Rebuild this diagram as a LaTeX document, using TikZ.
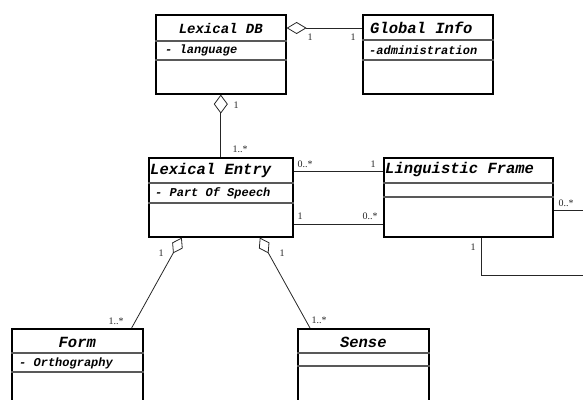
\documentclass[tikz,border=0pt]{standalone}
\usepackage{fontspec}
\setmainfont{Liberation Serif}
\setmonofont{Liberation Mono}
\usetikzlibrary{arrows.meta}
\tikzset{
  cls/.style={draw, line width=1.6pt, anchor=north west, inner sep=0pt},
  sep/.style={draw=black!65, line width=1.1pt},
  ttl/.style={font=\fontsize{15.5}{16}\selectfont\ttfamily\bfseries\itshape, inner sep=0pt},
  att/.style={font=\fontsize{12}{12}\selectfont\ttfamily\bfseries\itshape, inner sep=0pt, anchor=west},
  mult/.style={font=\fontsize{10}{10}\selectfont, inner sep=0pt, text=black!85},
  link/.style={draw=black!85, line width=0.8pt},
  agg/.style={link, {Diamond[open,length=19pt,width=13pt]}-}
}
\begin{document}
\begin{tikzpicture}[x=1pt,y=-1pt]
\clip (0,0) rectangle (583,399);
\path
(583,210) coordinate (R1)
(583,275) coordinate (R2)
;
\node[cls, minimum width=130pt, minimum height=79pt] (db) at (155,14) {};
\node[cls, minimum width=130pt, minimum height=79pt] (info) at (362,14) {};
\node[cls, minimum width=144pt, minimum height=79pt] (entry) at (148,157) {};
\node[cls, minimum width=169pt, minimum height=79pt] (frame) at (383,157) {};
\node[cls, minimum width=131pt, minimum height=90pt] (form) at (11,328) {};
\node[cls, minimum width=131pt, minimum height=90pt] (sense) at (297,328) {};
\foreach \c/\a/\b in {db/27/46, info/26/46, entry/26/46, frame/26/40, form/25/44, sense/25/38}
\draw[sep] ([yshift=-\a pt]\c.north west) -- ([yshift=-\a pt]\c.north east)
           ([yshift=-\b pt]\c.north west) -- ([yshift=-\b pt]\c.north east);
\node[ttl, font=\fontsize{14}{14}\selectfont\ttfamily\bfseries\itshape] (dbT) at ([yshift=-14pt]db.north) {Lexical DB};
\node[ttl, anchor=west] (infoT) at ([xshift=8pt,yshift=-14pt]info.north west) {Global Info};
\node[ttl, anchor=west] (entryT) at ([xshift=2pt,yshift=-13pt]entry.north west) {Lexical Entry};
\node[ttl, anchor=west] (frameT) at ([xshift=2pt,yshift=-13pt]frame.north west) {Linguistic Frame};
\node[ttl] (formT) at ([yshift=-14pt]form.north) {Form};
\node[ttl] (senseT) at ([yshift=-14pt]sense.north) {Sense};
\node[att] (dbA) at ([xshift=10pt,yshift=-36pt]db.north west) {- language};
\node[att] (infoA) at ([xshift=7pt,yshift=-36pt]info.north west) {-administration};
\node[att] (entryA) at ([xshift=7pt,yshift=-36pt]entry.north west) {- Part Of Speech};
\node[att] (formA) at ([xshift=8pt,yshift=-35pt]form.north west) {- Orthography};
% associations
\draw[agg, {Diamond[open,length=20pt,width=12pt]}-] ([yshift=-14pt]db.north east) -- ([yshift=-14pt]info.north west);
\draw[agg, {Diamond[open,length=19pt,width=14pt]}-] (db.south) -- (entry.north);
\draw[link] ([yshift=-14pt]entry.north east) -- ([yshift=-14pt]frame.north west);
\draw[link] ([yshift=13pt]entry.south east) -- ([yshift=13pt]frame.south west);
\draw[link] ([yshift=-53pt]frame.north east) -- (R1);
\draw[link] ([xshift=13.5pt]frame.south) |- (R2);
\draw[agg, {Diamond[open,length=18pt,width=12pt]}-] ([xshift=-39pt]entry.south) -- ([xshift=-12pt]form.north east);
\draw[agg, {Diamond[open,length=18pt,width=12pt]}-] ([xshift=39pt]entry.south) -- ([xshift=13pt]sense.north west);
\foreach \n/\x/\y/\t in {m1/310/37/1, m2/353/37/1, m3/236/105/1, m4/240/149/1..*,
  m5/305/164/0..*, m6/373/164/1, m7/300/216/1, m8/370/216/0..*, m9/566/203/0..*,
  m10/473/247/1, m11/161/253/1, m12/282/253/1, m13/116/321/1..*, m14/319/320/1..*}
\node[mult] (\n) at (\x,\y) {\t};
\end{tikzpicture}
\end{document}
